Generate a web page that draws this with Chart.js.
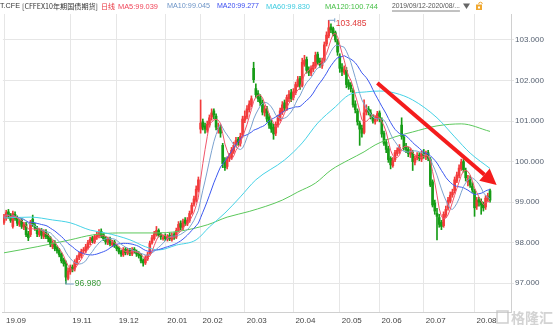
<!DOCTYPE html>
<html><head><meta charset="utf-8">
<script src="https://cdn.jsdelivr.net/npm/chart.js@4/dist/chart.umd.min.js"></script>
<style>html,body{margin:0;padding:0;background:#fff;}#wrap{width:554px;height:330px;position:relative;}</style>
</head><body><div id="wrap"><canvas id="c" width="554" height="330"></canvas></div>
<script>
// ---- data (daily candles 2019/09/12 - 2020/08/11) ----
const monthStarts = [0, 30, 51, 73, 89, 109, 131, 152, 170, 190, 213];
const monthLabels = ['19.09','19.11','19.12','20.01','20.02','20.03','20.04','20.05','20.06','20.07','20.08'];
const yTicks = [97, 98, 99, 100, 101, 102, 103];

const opens = [
98.50,98.60,98.76,98.68,98.40,98.70,98.62,98.45,98.55,98.38,98.45,98.22,
98.20,98.58,98.42,98.35,98.20,98.30,98.15,98.28,98.18,98.12,97.90,98.00,97.88,97.82,97.72,97.58,97.50,97.12,
97.28,97.40,97.35,97.50,97.64,97.68,97.80,97.80,97.88,98.00,98.12,98.02,98.14,98.18,98.28,98.20,98.12,98.00,98.10,97.95,98.02,
97.90,97.86,97.78,97.70,97.84,97.74,97.82,97.72,97.84,97.78,97.74,97.70,97.56,97.50,97.60,97.72,98.00,98.10,98.20,98.30,98.20,98.10,
98.16,98.08,98.18,98.08,98.20,98.14,98.30,98.48,98.36,98.56,98.46,98.55,98.74,98.95,99.05,99.30,
100.80,100.98,100.88,100.78,100.90,101.10,101.25,101.12,100.80,100.85,100.40,100.00,99.88,100.08,100.10,100.26,100.42,100.55,100.45,100.65,
101.02,101.10,101.28,101.40,102.30,101.80,101.68,101.58,101.45,101.20,101.30,101.10,100.95,100.85,100.70,100.90,101.05,101.22,101.45,101.30,101.55,101.70,
101.58,101.70,101.88,102.05,101.88,102.40,102.52,102.28,102.18,102.28,102.35,102.65,102.48,102.36,102.50,102.90,103.10,103.32,103.28,103.18,102.98,
102.60,102.32,102.20,102.25,101.95,101.88,101.75,101.42,101.25,100.95,100.82,100.72,101.22,101.30,101.20,101.10,100.98,101.05,
101.20,101.02,100.70,100.48,100.32,100.08,99.90,100.05,100.20,100.26,100.90,100.60,100.38,100.30,100.18,100.22,99.98,100.10,100.16,100.06,
100.22,100.12,100.22,100.05,99.50,98.98,98.72,98.62,98.50,98.42,98.68,98.85,99.02,99.18,99.28,99.52,99.65,99.82,100.00,99.78,99.50,99.58,99.40,
99.28,98.90,99.06,99.02,98.95,98.88,99.08,99.28];
const highs = [
98.70,98.80,98.82,98.72,98.78,98.76,98.66,98.58,98.60,98.50,98.50,98.28,
98.55,98.68,98.48,98.40,98.34,98.35,98.32,98.32,98.22,98.15,98.05,98.05,97.92,97.86,97.75,97.62,97.55,97.38,
97.45,97.45,97.58,97.68,97.76,97.84,97.88,97.96,98.06,98.14,98.16,98.20,98.26,98.32,98.34,98.24,98.16,98.14,98.14,98.06,98.06,
97.95,97.90,97.82,97.88,97.88,97.86,97.86,97.88,97.88,97.82,97.78,97.74,97.60,97.68,97.76,98.04,98.18,98.28,98.40,98.34,98.24,98.18,
98.22,98.20,98.24,98.24,98.25,98.36,98.52,98.54,98.58,98.62,98.62,98.78,98.98,99.15,99.40,99.62,
101.52,101.05,100.95,101.00,101.15,101.30,101.30,101.18,100.95,100.90,100.45,100.10,100.12,100.20,100.35,100.48,100.60,100.60,100.70,101.12,
101.25,101.38,101.50,101.62,102.45,101.92,101.75,101.65,101.52,101.38,101.36,101.18,101.02,100.92,100.98,101.15,101.32,101.48,101.52,101.64,101.75,101.78,
101.80,101.96,102.10,102.10,102.55,102.62,102.58,102.34,102.36,102.45,102.70,102.70,102.55,102.55,102.95,103.20,103.485,103.40,103.32,103.22,103.02,
102.66,102.42,102.36,102.32,102.02,101.95,101.80,101.50,101.30,101.00,100.90,101.52,101.40,101.36,101.28,101.15,101.12,101.24,
101.25,101.08,100.75,100.55,100.38,100.12,100.10,100.28,100.34,100.42,101.08,100.65,100.45,100.36,100.32,100.28,100.14,100.22,100.22,100.26,
100.30,100.26,100.28,100.10,99.55,99.05,98.85,98.70,98.55,98.76,98.90,99.12,99.25,99.32,99.62,99.74,99.92,100.06,100.05,99.84,99.66,99.65,99.48,
99.32,99.12,99.12,99.08,99.00,99.16,99.22,99.32];
const lows = [
98.45,98.55,98.60,98.50,98.36,98.55,98.42,98.40,98.35,98.32,98.15,98.05,
98.15,98.40,98.30,98.15,98.15,98.10,98.10,98.10,98.02,97.90,97.85,97.80,97.74,97.65,97.50,97.42,96.98,97.08,
97.22,97.28,97.30,97.45,97.58,97.62,97.74,97.75,97.84,97.95,98.00,97.98,98.08,98.12,98.12,98.05,97.96,97.95,97.92,97.90,97.88,
97.80,97.72,97.66,97.66,97.70,97.70,97.68,97.68,97.74,97.66,97.62,97.50,97.42,97.46,97.56,97.70,97.96,98.06,98.16,98.14,98.08,98.06,
98.05,98.04,98.05,98.04,98.08,98.10,98.26,98.32,98.32,98.42,98.42,98.50,98.70,98.90,99.00,99.25,
100.70,100.78,100.70,100.72,100.85,101.02,101.05,100.78,100.70,100.60,99.85,99.78,99.82,100.00,100.05,100.20,100.36,100.40,100.38,100.60,
100.96,101.05,101.22,101.35,101.95,101.58,101.48,101.38,101.15,101.12,100.98,100.82,100.72,100.55,100.64,100.85,101.00,101.16,101.25,101.26,101.48,101.48,
101.52,101.65,101.84,101.78,101.84,102.35,102.18,102.12,102.12,102.22,102.30,102.40,102.32,102.30,102.45,102.85,103.05,103.18,103.10,102.95,102.62,
102.20,102.12,102.15,101.82,101.78,101.72,101.34,101.20,100.90,100.40,100.60,100.68,101.15,101.15,101.05,100.95,100.92,101.00,
100.98,100.60,100.40,100.22,99.98,99.82,99.86,100.00,100.15,100.20,100.55,100.28,100.22,100.12,100.10,99.78,99.92,100.04,100.02,100.00,
100.08,100.05,100.02,99.38,98.88,98.70,98.07,98.38,98.32,98.38,98.62,98.80,98.98,99.12,99.22,99.48,99.60,99.78,99.74,99.52,99.40,99.36,99.24,
98.65,98.82,98.90,98.70,98.78,98.82,99.02,99.00];
const closes = [
98.62,98.74,98.66,98.55,98.72,98.60,98.48,98.52,98.40,98.45,98.20,98.12,
98.50,98.45,98.36,98.22,98.28,98.18,98.25,98.15,98.10,97.95,97.98,97.85,97.80,97.70,97.55,97.48,97.15,97.30,
97.38,97.33,97.52,97.62,97.70,97.78,97.82,97.90,98.00,98.08,98.05,98.15,98.20,98.25,98.18,98.10,98.02,98.08,97.97,98.00,97.92,
97.85,97.77,97.72,97.82,97.75,97.80,97.74,97.82,97.78,97.72,97.68,97.55,97.50,97.62,97.70,97.98,98.12,98.22,98.30,98.18,98.15,98.12,
98.10,98.15,98.10,98.18,98.12,98.30,98.45,98.38,98.52,98.48,98.55,98.72,98.92,99.08,99.32,99.55,
100.95,100.85,100.80,100.92,101.08,101.20,101.15,100.85,100.82,100.70,99.95,99.85,100.05,100.12,100.28,100.40,100.52,100.48,100.62,101.05,
101.12,101.30,101.42,101.55,102.02,101.65,101.55,101.45,101.22,101.30,101.05,100.90,100.80,100.68,100.92,101.08,101.25,101.40,101.32,101.58,101.66,101.55,
101.72,101.90,102.02,101.85,102.45,102.50,102.25,102.20,102.30,102.38,102.62,102.45,102.38,102.48,102.88,103.12,103.30,103.25,103.15,103.00,102.70,
102.30,102.22,102.28,101.90,101.85,101.80,101.40,101.28,100.98,100.80,100.70,101.20,101.28,101.22,101.12,101.00,101.05,101.18,
101.05,100.68,100.45,100.30,100.05,99.92,100.02,100.22,100.28,100.35,100.62,100.35,100.30,100.20,100.25,100.00,100.08,100.15,100.08,100.20,
100.15,100.20,100.08,99.42,98.93,98.78,98.65,98.45,98.40,98.70,98.82,99.05,99.17,99.25,99.55,99.67,99.84,99.99,99.80,99.60,99.55,99.42,99.30,
98.86,99.05,99.00,98.93,98.86,99.10,99.15,99.05];

// long moving averages at sample candles
const ma60Idx = [0,12,22,30,39,46,57,64,70,78,87,93,100,107,114,127,135,142,150,156,164,170,177,185,196,204,211,220];
const ma60Val = [98.61,98.63,98.56,98.49,98.31,98.24,98.07,97.90,97.82,97.94,98.07,98.39,98.73,99.13,99.55,100.04,100.46,100.95,101.35,101.64,101.72,101.74,101.69,101.52,101.08,100.61,100.21,99.83];
const ma120Idx = [0,15,30,40,52,68,79,92,101,111,126,133,141,148,156,163,168,177,185,196,207,220];
const ma120Val = [97.75,97.90,98.07,98.19,98.24,98.24,98.28,98.44,98.63,98.77,99.05,99.25,99.47,99.79,100.04,100.24,100.41,100.61,100.73,100.88,100.93,100.744];

const headerTexts = ['T.CFE', '[CFFEX10年期国债期货]', '日线', 'MA5:99.039', 'MA10:99.045', 'MA20:99.277', 'MA60:99.830', 'MA120:100.744', '2019/09/12-2020/08/...'];
const arrowFrom = [169, 101.94];
const arrowTo = [223, 99.42];

// ---- build ----
const N = 230;
const xLabels = [];
for (let i = 0; i < N; i++) { const k = monthStarts.indexOf(i); xLabels.push(k >= 0 ? monthLabels[k] : ''); }

function movingAvg(arr, n) {
  const out = [];
  for (let i = 0; i < arr.length; i++) {
    const s = Math.max(0, i - n + 1); let sum = 0;
    for (let j = s; j <= i; j++) sum += arr[j];
    out.push(sum / (i - s + 1));
  }
  return out;
}
function sparse(idx, val) { const a = new Array(N).fill(null); idx.forEach((k, j) => { a[k] = val[j]; }); return a; }

const RED = '#f23b3b', GREEN = '#169c16';
const candleColors = closes.map((c, i) => c >= opens[i] ? RED : GREEN);
const FONT = '"Liberation Sans", Arial, sans-serif';
const CJK = '"Noto Sans CJK SC", sans-serif';

const overlay = {
  id: 'overlay',
  afterDraw(chart) {
    const ctx = chart.ctx, xs = chart.scales.x, ys = chart.scales.y;
    ctx.save();
    // header: [left, right, colour, family]
    const hdr = [
      [0, 20, '#333', FONT], [22, 98, '#333', CJK], [101, 115, '#e8323c', CJK], [118, 158, '#f0465a', FONT],
      [167, 210, '#6b93c6', FONT], [217, 259, '#3a4cf0', FONT], [266, 310, '#3ccbe0', FONT], [325, 378, '#46bf46', FONT], [392, 460, '#555', FONT]
    ];
    ctx.textBaseline = 'middle'; ctx.textAlign = 'left';
    headerTexts.forEach((t, k) => {
      const [l, r, col, fam] = hdr[k];
      ctx.font = '10px ' + fam;
      const size = Math.min(8.5, 10 * (r - l) / ctx.measureText(t).width);
      ctx.font = size.toFixed(2) + 'px ' + fam;
      ctx.fillStyle = col;
      ctx.fillText(t, l, 6.5);
    });
    ctx.font = '10px ' + FONT;
    const dsz = Math.min(8.5, 10 * 68 / ctx.measureText(headerTexts[8]).width);
    ctx.font = dsz + 'px ' + FONT;
    const dw = ctx.measureText(headerTexts[8]).width;
    ctx.strokeStyle = '#666'; ctx.lineWidth = 0.8;
    ctx.beginPath(); ctx.moveTo(392, 11); ctx.lineTo(392 + dw, 11); ctx.stroke();
    ctx.fillStyle = '#666';
    ctx.beginPath(); ctx.moveTo(463, 3.5); ctx.lineTo(470, 3.5); ctx.lineTo(466.5, 9); ctx.closePath(); ctx.fill();
    ctx.fillStyle = '#f0a830'; ctx.fillRect(476, 4.5, 6, 5.5);
    ctx.strokeStyle = '#f0a830'; ctx.lineWidth = 1; ctx.beginPath(); ctx.arc(480.5, 4, 1.8, Math.PI, 0); ctx.stroke();
    ctx.fillStyle = '#fff'; ctx.fillRect(478, 6.5, 2, 2);

    // highest / lowest labels
    let hi = 0, lo = 0;
    highs.forEach((v, i) => { if (v > highs[hi]) hi = i; });
    lows.forEach((v, i) => { if (v < lows[lo]) lo = i; });
    ctx.font = '8.5px ' + FONT; ctx.lineWidth = 1; ctx.strokeStyle = '#7aa3c8';
    let px = xs.getPixelForValue(hi), py = ys.getPixelForValue(highs[hi]);
    ctx.beginPath(); ctx.moveTo(px, py); ctx.lineTo(px + 6, py); ctx.moveTo(px + 6, py - 2); ctx.lineTo(px + 6, py + 2); ctx.stroke();
    ctx.fillStyle = '#e03a3a'; ctx.fillText(highs[hi].toFixed(3), px + 7, py + 3);
    px = xs.getPixelForValue(lo); py = ys.getPixelForValue(lows[lo]);
    ctx.beginPath(); ctx.moveTo(px, py - 3); ctx.lineTo(px, py); ctx.lineTo(px + 8, py); ctx.stroke();
    ctx.fillStyle = '#3a9a3a'; ctx.fillText(lows[lo].toFixed(3), px + 9, py);

    // red arrow
    const x1 = xs.getPixelForValue(arrowFrom[0]), y1 = ys.getPixelForValue(arrowFrom[1]);
    const x2 = xs.getPixelForValue(arrowTo[0]), y2 = ys.getPixelForValue(arrowTo[1]);
    const ang = Math.atan2(y2 - y1, x2 - x1), hl = 16, hw = 8;
    const bx = x2 - hl * Math.cos(ang), by = y2 - hl * Math.sin(ang);
    ctx.strokeStyle = '#f41c1c'; ctx.fillStyle = '#f41c1c'; ctx.lineWidth = 4;
    ctx.beginPath(); ctx.moveTo(x1, y1); ctx.lineTo(bx, by); ctx.stroke();
    ctx.beginPath(); ctx.moveTo(x2, y2);
    ctx.lineTo(bx + hw * Math.sin(ang), by - hw * Math.cos(ang));
    ctx.lineTo(bx - hw * Math.sin(ang), by + hw * Math.cos(ang));
    ctx.closePath(); ctx.fill();

    // watermark
    ctx.globalAlpha = 0.75;
    ctx.strokeStyle = '#bdbdbd'; ctx.lineWidth = 1.5;
    ctx.strokeRect(497, 311, 11, 12);
    ctx.font = 'bold 14px ' + CJK; ctx.fillStyle = '#c4c4c4'; ctx.textBaseline = 'middle';
    ctx.fillText('格隆汇', 511, 318);
    ctx.restore();
  }
};

new Chart(document.getElementById('c'), {
  type: 'bar',
  data: {
    labels: xLabels,
    datasets: [
      { type: 'line', label: 'MA5', data: movingAvg(closes, 5), borderColor: '#f0556a', borderWidth: 1, pointRadius: 0, order: 0 },
      { type: 'line', label: 'MA10', data: movingAvg(closes, 10), borderColor: '#7ba2cf', borderWidth: 1, pointRadius: 0, order: 0 },
      { type: 'line', label: 'MA20', data: movingAvg(closes, 20), borderColor: '#3c58f0', borderWidth: 1, pointRadius: 0, order: 0 },
      { type: 'line', label: 'MA60', data: sparse(ma60Idx, ma60Val), borderColor: '#46d2e6', borderWidth: 1, pointRadius: 0, spanGaps: true, cubicInterpolationMode: 'monotone', order: 0 },
      { type: 'line', label: 'MA120', data: sparse(ma120Idx, ma120Val), borderColor: '#5cc85c', borderWidth: 1, pointRadius: 0, spanGaps: true, cubicInterpolationMode: 'monotone', order: 0 },
      { type: 'bar', label: 'body', data: closes.map((c, i) => [opens[i], c]), backgroundColor: candleColors, barThickness: 2, grouped: false, minBarLength: 1, borderWidth: 0, order: 2 },
      { type: 'bar', label: 'wick', data: lows.map((l, i) => [l, highs[i]]), backgroundColor: candleColors, barThickness: 1, grouped: false, borderWidth: 0, order: 3 }
    ]
  },
  options: {
    responsive: false, animation: false, devicePixelRatio: 1,
    layout: { padding: { top: 14, left: 0, right: 0, bottom: 0 } },
    plugins: { legend: { display: false }, tooltip: { enabled: false } },
    scales: {
      x: {
        offset: true,
        grid: { offset: false, drawTicks: false, color: c => monthStarts.includes(c.index) ? '#e6e6e6' : 'rgba(0,0,0,0)' },
        border: { display: true, color: '#d0d0d0' },
        ticks: { autoSkip: false, maxRotation: 0, minRotation: 0, align: 'start', labelOffset: 2, padding: 4, color: '#444', font: { size: 8, family: FONT }, callback: (v, i) => xLabels[i] },
        afterFit: s => { s.height = 18; }
      },
      y: {
        position: 'right', min: 96.29, max: 103.64,
        afterBuildTicks: s => { s.ticks = yTicks.map(v => ({ value: v })); },
        grid: { color: '#e6e6e6', tickLength: 3 },
        border: { display: true, color: '#d0d0d0' },
        ticks: { padding: 1, color: '#556070', font: { size: 8, family: FONT }, callback: v => v.toFixed(3) },
        afterFit: s => { s.width = 43; }
      }
    }
  },
  plugins: [overlay]
});
</script></body></html>
